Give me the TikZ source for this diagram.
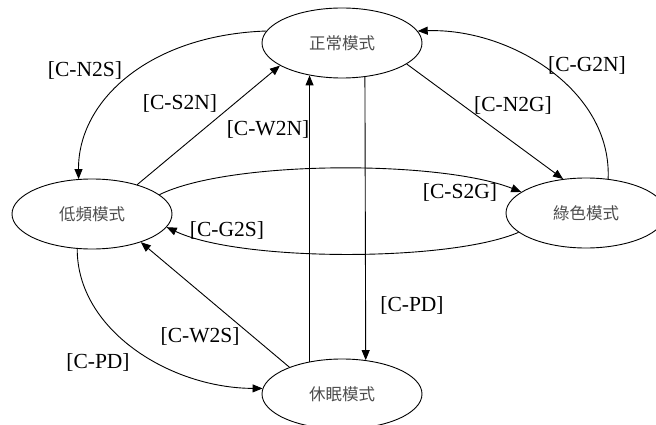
\documentclass[tikz,border=0pt]{standalone}
\usepackage{fontspec}
\setmainfont{Liberation Serif}
\newfontfamily\cjk{Noto Sans CJK TC}
\usetikzlibrary{shapes.geometric,arrows.meta}
\begin{document}
\begin{tikzpicture}[x=1pt,y=-1pt,
  state/.style={ellipse,draw,line width=0.9pt,minimum width=160pt,minimum height=70pt,inner sep=0pt,font=\cjk\fontsize{16.5}{18}\selectfont,text=black!70},
  edge/.style={line width=0.9pt,-{Triangle[length=10pt,width=8pt]}},
  lbl/.style={font=\fontsize{21.5}{24}\selectfont,inner sep=0pt}]
\useasboundingbox (0,0) rectangle (656,425);
\node[state] (N) at (342,43) {正常模式};
\node[state] (S) at (92,214) {低頻模式};
\node[state] (G) at (586,213) {綠色模式};
\node[state] (W) at (342,394) {休眠模式};
% N -> S
\draw[edge] (N.171) .. controls (150,35) and (78,100) .. (S.111);
\node[lbl] (l1) at (85,70) {[C-N2S]};
% S -> N
\draw[edge] (S.33) -- (N.200.6);
\node[lbl] (l2) at (180,103) {[C-S2N]};
% W -> N
\draw[edge] (W.135) -- (N.225);
\node[lbl] (l3) at (268,129) {[C-W2N]};
% N -> G
\draw[edge] (N.342.6) -- (G.124.4);
\node[lbl] (l4) at (513,105) {[C-N2G]};
% G -> N
\draw[edge] (G.57.8) .. controls (612,90) and (510,28) .. (N.9);
\node[lbl] (l5) at (587,65) {[C-G2N]};
% S -> G
\draw[edge] (S.16.8) .. controls (230,160) and (440,160) .. (G.162.3);
\node[lbl] (l6) at (460,192) {[C-S2G]};
% G -> S
\draw[edge] (G.196.9) .. controls (450,262) and (240,262) .. (S.350);
\node[lbl] (l7) at (227,230) {[C-G2S]};
% N -> W
\draw[edge] (N.304.5) -- (W.55.5);
\node[lbl] (l8) at (412,305) {[C-PD]};
% W -> S
\draw[edge] (W.153) -- (S.330.8);
\node[lbl] (l9) at (200,336) {[C-W2S]};
% S -> W
\draw[edge] (S.247.4) .. controls (77,330) and (170,388) .. (W.176);
\node[lbl] (l10) at (98,362) {[C-PD]};
\end{tikzpicture}
\end{document}
